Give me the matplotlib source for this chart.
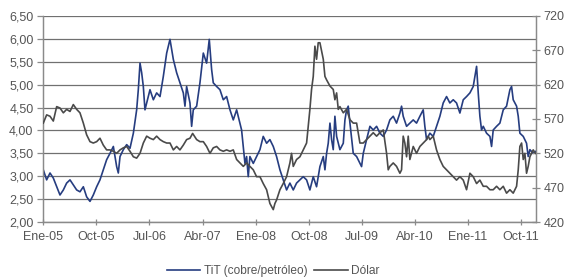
import matplotlib
matplotlib.use("Agg")
import matplotlib.pyplot as plt
from matplotlib.ticker import FuncFormatter

plt.rcParams['font.family'] = ['Liberation Sans', 'DejaVu Sans']

# x positions: months elapsed since January 2005
tit_months = [
    0.00, 0.57, 1.14, 1.70, 2.27, 2.83, 3.40, 3.96, 4.53, 5.09, 5.66, 6.22, 6.79, 7.35, 7.92, 8.48, 9.05, 9.61, 10.17, 10.74,
    11.31, 11.88, 12.44, 12.72, 13.01, 13.57, 14.14, 14.70, 15.27, 15.83, 16.11, 16.40, 16.68, 16.96, 17.24, 17.53, 18.09,
    18.66, 19.22, 19.79, 20.35, 20.92, 21.48, 22.05, 22.61,
    23.17, 23.74, 24.02, 24.30, 24.87, 25.15, 25.43, 26.00, 26.56, 27.13, 27.69, 28.14, 28.54, 28.82, 29.39, 29.95, 30.52,
    31.08, 31.65, 32.21, 32.78, 33.34, 33.62, 33.91, 34.19, 34.47, 34.75,
    35.03, 35.60, 36.16, 36.73, 37.29, 37.86, 38.42, 38.99, 39.55, 40.12, 40.68, 41.25, 41.81, 42.38, 42.94, 43.51, 44.07,
    44.64, 45.20, 45.77, 46.33,
    46.90, 47.47, 47.75, 48.03, 48.31, 48.60, 48.88, 49.16, 49.44, 49.73, 50.01, 50.29, 50.86, 51.14, 51.42, 51.70, 51.99,
    52.55, 53.12, 53.68, 53.96, 54.25, 54.81, 55.38, 55.94, 56.51, 57.07, 57.64, 58.20,
    58.76, 59.33, 59.89, 60.46, 60.74, 61.02, 61.59, 62.15, 62.72, 63.28, 63.85, 64.41, 64.69, 64.98, 65.54, 66.11, 66.67,
    67.24, 67.80, 68.37, 68.93, 69.50, 70.06,
    70.63, 71.20, 71.76, 72.33, 72.89, 73.17, 73.46, 73.74, 74.02, 74.30, 74.59, 75.15, 75.72, 76.00, 76.28, 76.85, 77.41,
    77.98, 78.54, 79.11, 79.39, 79.67, 80.24, 80.52, 80.80, 81.37, 81.93, 82.21, 82.50, 83.06, 83.45,
]
tit_values = [
    3.14, 2.92, 3.07, 2.96, 2.77, 2.59, 2.70, 2.85, 2.92, 2.81, 2.70, 2.66, 2.77, 2.55, 2.45, 2.59, 2.77, 2.92, 3.14, 3.36,
    3.50, 3.65, 3.21, 3.07, 3.43, 3.58, 3.69, 3.61, 3.94, 4.45, 4.89, 5.47, 5.26, 4.96, 4.45, 4.60, 4.89,
    4.67, 4.82, 4.74, 5.18, 5.69, 5.99, 5.55, 5.26,
    5.04, 4.82, 4.53, 4.96, 4.60, 4.09, 4.45, 4.53, 5.04, 5.69, 5.47, 5.99, 5.33, 5.04, 4.96, 4.89, 4.67,
    4.74, 4.45, 4.23, 4.45, 4.16, 4.01, 3.65, 3.28, 3.43, 2.99,
    3.43, 3.28, 3.43, 3.58, 3.87, 3.72, 3.80, 3.65, 3.43, 3.14, 2.92, 2.70, 2.85, 2.70, 2.85, 2.92, 2.99,
    2.92, 2.70, 2.99, 2.77,
    3.21, 3.43, 3.14, 3.50, 3.72, 4.16, 3.80, 3.58, 4.31, 3.87, 3.72, 3.58, 3.72, 4.23, 4.45, 4.53, 4.16,
    3.50, 3.43, 3.28, 3.21, 3.50, 3.80, 4.09, 4.01, 4.09, 3.94, 3.87, 4.01,
    4.23, 4.31, 4.16, 4.38, 4.53, 4.31, 4.09, 4.16, 4.23, 4.16, 4.31, 4.45, 4.09, 3.80, 3.94, 3.87, 4.09,
    4.31, 4.60, 4.74, 4.60, 4.67, 4.60,
    4.38, 4.67, 4.74, 4.82, 4.96, 5.18, 5.40, 4.82, 4.31, 4.01, 4.09, 3.94, 3.87, 3.65, 4.01, 4.09, 4.16,
    4.45, 4.53, 4.89, 4.96, 4.67, 4.53, 4.31, 3.94, 3.87, 3.72, 3.43, 3.58, 3.50, 3.54,
]

usd_months = [
    0.00, 0.57, 1.14, 1.70, 2.27, 2.83, 3.40, 3.96, 4.53, 5.09, 5.66, 6.22, 6.79, 7.35, 7.92, 8.48, 9.05, 9.61, 10.17, 10.74,
    11.31, 11.88, 12.44, 13.01, 13.57, 14.14, 14.70, 15.27, 15.83, 16.40, 16.96, 17.53, 18.09, 18.66, 19.22, 19.79, 20.35,
    20.92, 21.48, 22.05, 22.61,
    23.17, 23.74, 24.30, 24.87, 25.32, 26.00, 26.56, 27.13, 27.69, 28.26, 28.82, 29.39, 29.95, 30.52, 31.08, 31.65, 32.21,
    32.78, 33.34, 33.91, 34.47,
    35.03, 35.60, 36.16, 36.73, 37.29, 37.86, 38.42, 38.99, 39.27, 39.55, 40.12, 40.68, 41.25, 41.81, 42.09, 42.38, 42.94,
    43.51, 44.07, 44.64, 44.92, 45.20, 45.48, 45.77, 46.05, 46.33, 46.61,
    46.90, 47.47, 47.75, 48.03, 48.60, 49.16, 49.44, 49.73, 50.01, 50.29, 50.86, 51.42, 51.99, 52.55, 53.12, 53.68, 54.25,
    54.81, 55.38, 55.94, 56.51, 57.07, 57.64, 58.20, 58.48,
    58.76, 59.33, 59.89, 60.46, 60.74, 61.02, 61.30, 61.59, 61.87, 62.15, 62.72, 63.28, 63.85, 64.41, 64.98, 65.26, 65.54,
    66.11, 66.67, 67.24, 67.80, 68.37, 68.93, 69.50, 70.06,
    70.63, 71.20, 71.76, 72.33, 72.89, 73.46, 74.02, 74.59, 75.15, 75.72, 76.28, 76.85, 77.41, 77.98, 78.54, 79.11, 79.67,
    80.24, 80.52, 80.80, 81.09, 81.37, 81.65, 81.93, 82.21, 82.50, 83.06, 83.45,
]
usd_values = [
    564, 576, 574, 567, 588, 586, 579, 584, 581, 591, 584, 579, 564, 547, 537, 535, 537, 542, 532, 525,
    525, 523, 520, 525, 528, 530, 523, 515, 513, 520, 535, 545, 542, 540, 545, 540, 537,
    535, 535, 525, 530,
    525, 532, 540, 542, 549, 540, 537, 537, 530, 520, 528, 530, 525, 523, 525, 523, 525,
    511, 506, 501, 506,
    501, 496, 486, 486, 476, 467, 447, 438, 447, 452, 467, 476, 486, 506, 520, 501, 511,
    515, 525, 535, 559, 584, 613, 632, 676, 657, 681,
    681, 657, 632, 627, 618, 613, 598, 608, 584, 588, 579, 584, 569, 564, 564, 535, 535,
    540, 545, 550, 545, 550, 554, 520, 496,
    501, 506, 501, 491, 496, 545, 535, 515, 545, 511, 530, 520, 530, 535, 540, 545, 540,
    545, 525, 511, 501, 496, 491, 486, 481,
    486, 481, 467, 491, 486, 476, 481, 472, 472, 467, 467, 472, 467, 472, 462, 467, 462,
    472, 496, 530, 535, 511, 520, 491, 501, 515, 525, 520,
]

tick_months = [0, 9, 18, 27, 36, 45, 54, 63, 72, 81]
tick_labels = ["Ene-05", "Oct-05", "Jul-06", "Abr-07", "Ene-08", "Oct-08", "Jul-09", "Abr-10", "Ene-11", "Oct-11"]
left_ticks = [2.0, 2.5, 3.0, 3.5, 4.0, 4.5, 5.0, 5.5, 6.0, 6.5]
right_ticks = [420, 470, 520, 570, 620, 670, 720]

BLUE = "#263d80"
GRAY = "#4a4a4a"
AXC = "#8a8a8a"
TXT = "#555555"

fig = plt.figure(figsize=(5.68, 2.79), dpi=100)
ax = fig.add_axes([0.0762, 0.2043, 0.8666, 0.7384])
ax2 = ax.twinx()

ax.set_xlim(0, 83.45)
ax.set_ylim(2.0, 6.5)
ax2.set_ylim(420, 720)

for v in left_ticks:
    ax.axhline(v, color="#707070", lw=0.9, zorder=0)

l1, = ax.plot(tit_months, tit_values, color=BLUE, lw=1.2, zorder=3)
l2, = ax2.plot(usd_months, usd_values, color=GRAY, lw=1.2, zorder=3)

ax.set_yticks(left_ticks)
ax.yaxis.set_major_formatter(FuncFormatter(lambda v, p: f"{v:.2f}".replace(".", ",")))
ax2.set_yticks(right_ticks)
ax.set_xticks(tick_months)
ax.set_xticklabels(tick_labels)

for a in (ax, ax2):
    for s in a.spines.values():
        s.set_color(AXC)
        s.set_linewidth(0.9)
    a.spines["top"].set_visible(False)
ax.tick_params(axis="x", direction="inout", length=5, width=0.9, color=AXC, labelsize=9, labelcolor=TXT, pad=4)
ax.tick_params(axis="y", direction="out", length=4, width=0.9, color=AXC, labelsize=9, labelcolor=TXT, pad=3)
ax2.tick_params(axis="y", direction="inout", length=6, width=0.9, color=AXC, labelsize=9, labelcolor=TXT, pad=3)

fig.legend([l1, l2], ["TiT (cobre/petróleo)", "Dólar"], loc="center", bbox_to_anchor=(0.481, 0.028),
           ncol=2, frameon=False, fontsize=8.6, handlelength=2.8, handletextpad=0.3, columnspacing=0.6,
           labelcolor=TXT)

fig.savefig("out.png", dpi=100)
